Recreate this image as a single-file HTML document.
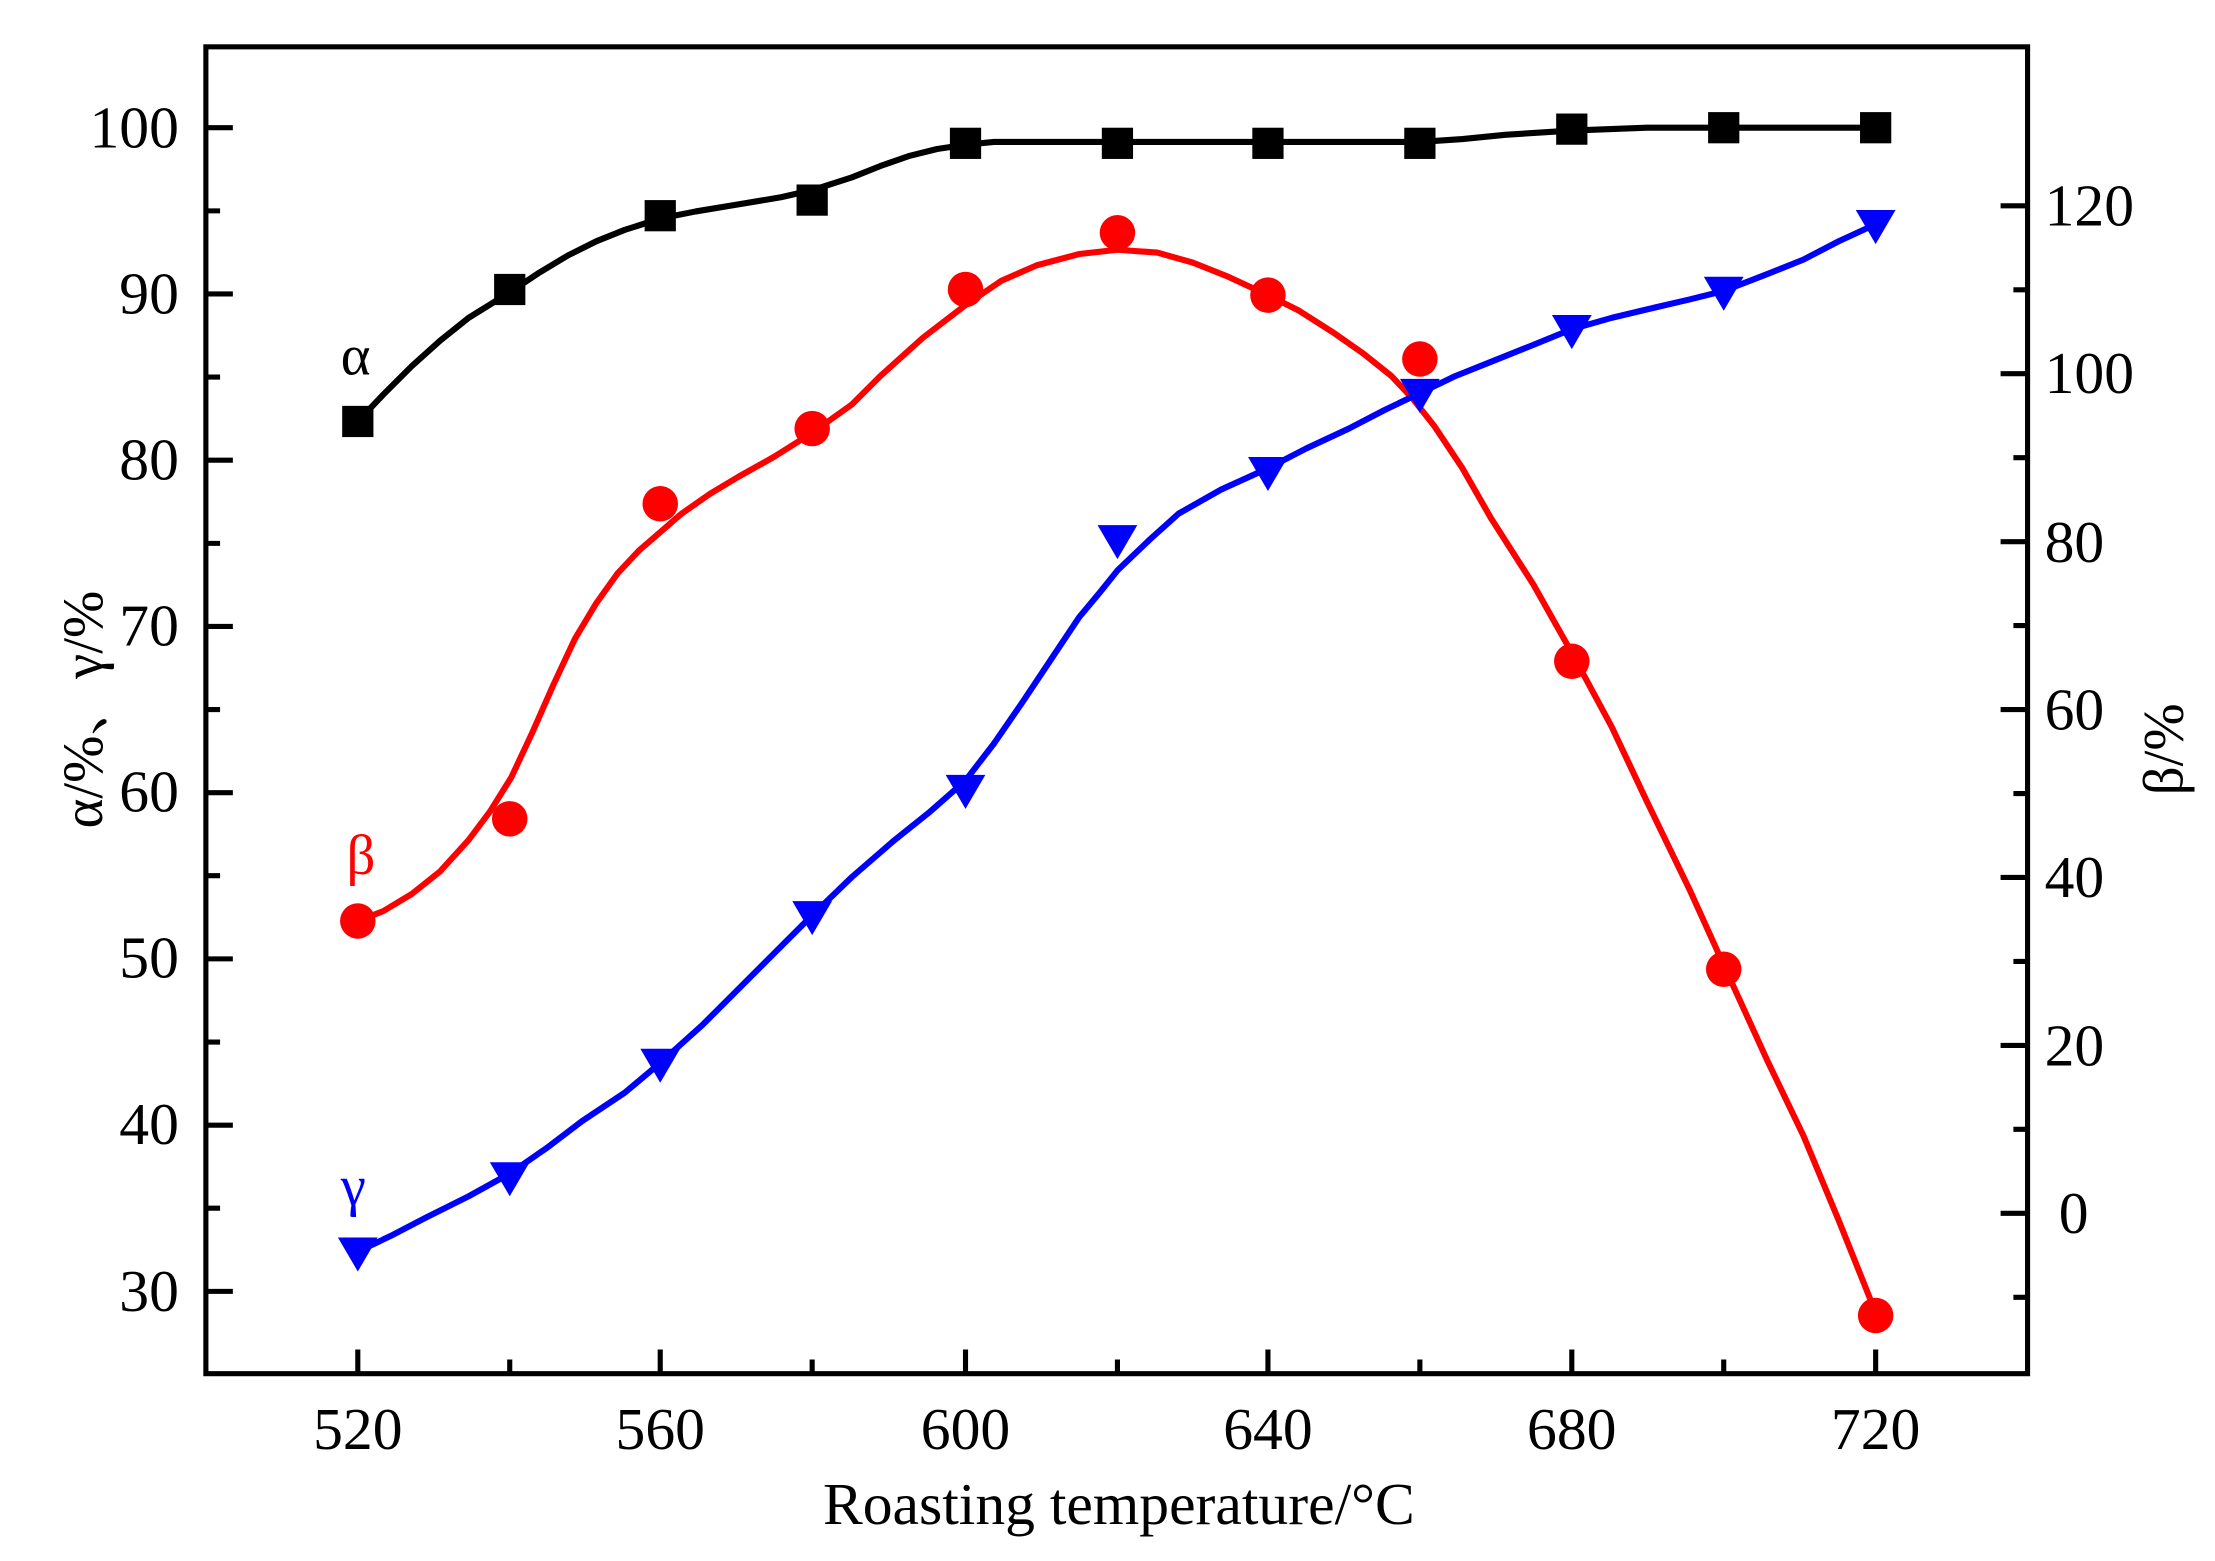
<!DOCTYPE html>
<html><head><meta charset="utf-8"><style>html,body{margin:0;padding:0;background:#fff}svg{display:block}</style></head>
<body>
<svg xmlns="http://www.w3.org/2000/svg" width="2215" height="1561" viewBox="0 0 1560 1100" preserveAspectRatio="none" font-family="'Liberation Serif', serif">
<rect width="1560" height="1100" fill="#fff"/>
<polyline fill="none" stroke="#000" stroke-width="4.3" stroke-linejoin="round" points="252,297 270,278 290,258 310,240 330,224 359,206 380,192 400,180 420,170 440,162 465,154 490,149 520,144 550,139 572,134 600,125 620,117 640,110 660,105 680,102 700,100 720,100 787,100 893,100 1000,100 1030,98 1060,95 1107,92 1160,90 1214,90 1321,90"/>
<polyline fill="none" stroke="#f00" stroke-width="4.3" stroke-linejoin="round" points="252,649 270,642 290,630 310,614 330,592 345,572 360,548 375,516 390,482 405,450 420,425 435,404 450,388 465,375 480,362 500,348 520,336 545,322 572,305 600,285 620,265 650,238 680,215 705,198 730,187 760,179 787,176 815,178 840,185 865,195 893,208 915,219 940,235 960,249 980,265 995,281 1010,300 1030,330 1050,365 1080,412 1107,460 1135,512 1160,565 1190,627 1214,680 1245,748 1270,800 1295,860 1321,925"/>
<polyline fill="none" stroke="#00f" stroke-width="4.3" stroke-linejoin="round" points="252,882 275,871 300,858 330,843 359,827 385,809 410,790 440,770 465,749 495,722 520,697 545,672 572,645 600,618 630,592 655,572 680,550 700,524 720,495 740,465 760,435 775,417 787,402 810,380 830,362 860,345 893,330 920,316 950,302 975,289 1000,277 1025,265 1050,255 1080,243 1107,232 1135,224 1160,218 1190,211 1214,205 1245,193 1270,183 1295,170 1321,158"/>
<g fill="#000">
<rect x="241" y="286" width="22" height="22"/><rect x="348" y="193" width="22" height="22"/><rect x="454" y="141" width="22" height="22"/><rect x="561" y="130" width="22" height="22"/><rect x="669" y="90" width="22" height="22"/><rect x="776" y="90" width="22" height="22"/><rect x="882" y="90" width="22" height="22"/><rect x="989" y="90" width="22" height="22"/><rect x="1096" y="80" width="22" height="22"/><rect x="1203" y="79" width="22" height="22"/><rect x="1310" y="79" width="22" height="22"/>
</g>
<g fill="#f00">
<circle cx="252" cy="649" r="12.5"/><circle cx="359" cy="577" r="12.5"/><circle cx="465" cy="355" r="12.5"/><circle cx="572" cy="302" r="12.5"/><circle cx="680" cy="204" r="12.5"/><circle cx="787" cy="164" r="12.5"/><circle cx="893" cy="208" r="12.5"/><circle cx="1000" cy="253" r="12.5"/><circle cx="1107" cy="466" r="12.5"/><circle cx="1214" cy="683" r="12.5"/><circle cx="1321" cy="927" r="12.5"/>
</g>
<g fill="#00f">
<path d="M238,872 h28 l-14,24z"/><path d="M345,819 h28 l-14,24z"/><path d="M451,739 h28 l-14,24z"/><path d="M558,635 h28 l-14,24z"/><path d="M666,546 h28 l-14,24z"/><path d="M773,370 h28 l-14,24z"/><path d="M879,322 h28 l-14,24z"/><path d="M986,267 h28 l-14,24z"/><path d="M1093,222 h28 l-14,24z"/><path d="M1200,195 h28 l-14,24z"/><path d="M1307,148 h28 l-14,24z"/>
</g>
<rect x="145" y="33" width="1283" height="935" fill="none" stroke="#000" stroke-width="3.6"/>
<g stroke="#000" stroke-width="3.6">
<path d="M252,968v-17M359,968v-10M465,968v-17M572,968v-10M680,968v-17M787,968v-10M893,968v-17M1000,968v-10M1107,968v-17M1214,968v-10M1321,968v-17"/>
<path d="M145,90h19M145,148.6h10M145,207.1h19M145,265.7h10M145,324.3h19M145,382.9h10M145,441.4h19M145,500h10M145,558.6h19M145,617.1h10M145,675.7h19M145,734.3h10M145,792.9h19M145,851.4h10M145,910h19"/>
<path d="M1428,145h-19M1428,204.2h-10M1428,263.3h-19M1428,322.5h-10M1428,381.7h-19M1428,440.8h-10M1428,500h-19M1428,559.2h-10M1428,618.3h-19M1428,677.5h-10M1428,736.7h-19M1428,795.8h-10M1428,855h-19M1428,914.2h-10"/>
</g>
<g font-size="42" fill="#000">
<g text-anchor="middle">
<text x="252" y="1021">520</text><text x="465" y="1021">560</text><text x="680" y="1021">600</text><text x="893" y="1021">640</text><text x="1107" y="1021">680</text><text x="1321" y="1021">720</text>
</g>
<g text-anchor="end">
<text x="126" y="104">100</text><text x="126" y="221">90</text><text x="126" y="338">80</text><text x="126" y="455">70</text><text x="126" y="572">60</text><text x="126" y="689">50</text><text x="126" y="806">40</text><text x="126" y="924">30</text>
</g>
<g text-anchor="start">
<text x="1440" y="159">120</text><text x="1440" y="277">100</text><text x="1440" y="396">80</text><text x="1440" y="514">60</text><text x="1440" y="632">40</text><text x="1440" y="751">20</text><text x="1450" y="869">0</text>
</g>
<text x="788" y="1074" text-anchor="middle" font-size="42">Roasting temperature/°C</text>
<text transform="translate(72,500) rotate(-90)" text-anchor="middle" font-size="40" font-family="'Liberation Serif','Noto Serif CJK SC',serif">α/%、γ/%</text>
<text transform="translate(1537,528) rotate(-90)" text-anchor="middle" font-size="40">β/%</text>
<text x="240" y="264" font-size="40">α</text>
<text x="244" y="616" font-size="40" fill="#f00">β</text>
<text x="240" y="849" font-size="40" fill="#00f">γ</text>
</g>
</svg>
</body></html>
